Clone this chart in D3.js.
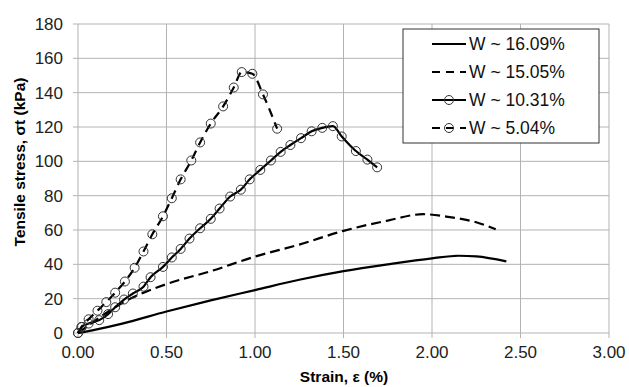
<!DOCTYPE html>
<html>
<head>
<meta charset="utf-8">
<script src="https://cdn.jsdelivr.net/npm/d3@7"></script>
<style>
  body { margin: 0; background: #fff; }
  svg { font-family: "Liberation Sans", Arial, sans-serif; }
</style>
</head>
<body>
<svg width="629" height="387"></svg>
<script>
// strain (%) , stress (kPa)
const w1609 = [[0,0],[0.1,2],[0.25,5.5],[0.5,12.5],[0.75,19],[1.0,25],[1.25,31],[1.5,36],
  [1.75,40],[2.0,43.5],[2.15,45],[2.25,44.6],[2.42,41.7]];
const w1505 = [[0,0],[0.1,7.5],[0.25,17.5],[0.5,28.5],[0.75,36],[1.0,44.5],[1.25,51.5],[1.5,59.5],
  [1.75,65.5],[1.95,69.2],[2.1,67.5],[2.25,64.5],[2.36,60.4]];
const w1031 = [[0,0],[0.02,3.5],[0.06,5.5],[0.12,7.5],[0.17,11],[0.21,15],[0.26,19.5],[0.31,23],
  [0.37,27],[0.41,32.5],[0.48,38.5],[0.53,44],[0.58,49],[0.63,55],[0.69,61],[0.75,66.5],
  [0.80,72.5],[0.86,79.5],[0.92,83.5],[0.97,89.5],[1.03,95],[1.09,100.5],[1.145,105.5],
  [1.20,109.5],[1.26,113.5],[1.32,117.5],[1.38,119.5],[1.44,120.5],[1.49,114.5],[1.57,106],
  [1.635,101],[1.69,96.5]];
const w504 = [[0,0],[0.02,3.5],[0.06,8],[0.11,13],[0.16,18],[0.21,23.5],[0.265,30],[0.32,38],
  [0.37,47.5],[0.42,57.5],[0.48,68],[0.53,78.5],[0.58,89.5],[0.64,100.5],[0.69,111],[0.75,122],
  [0.82,132],[0.88,143],[0.925,152],[0.985,151],[1.045,139],[1.125,119]];

const xTicks = [0, 0.5, 1, 1.5, 2, 2.5, 3];
const yTicks = [0, 20, 40, 60, 80, 100, 120, 140, 160, 180];

const series = [
  { label: "W ~  16.09%", data: w1609, dash: null, marker: false },
  { label: "W ~  15.05%", data: w1505, dash: "10,5", marker: false },
  { label: "W ~  10.31%", data: w1031, dash: null, marker: true },
  { label: "W ~  5.04%", data: w504, dash: "9,6", marker: true }
];

const svg = d3.select("svg");
const x = d3.scaleLinear().domain([0, 3]).range([78, 609]);
const y = d3.scaleLinear().domain([0, 180]).range([333, 24]);

// grid
svg.append("g").selectAll("line").data(xTicks).join("line")
  .attr("x1", d => x(d)).attr("x2", d => x(d))
  .attr("y1", y(180)).attr("y2", y(0) + 5)
  .attr("stroke", "#b3b3b3").attr("stroke-width", 1);
svg.append("g").selectAll("line").data(yTicks).join("line")
  .attr("x1", x(0) - 5).attr("x2", x(3))
  .attr("y1", d => y(d)).attr("y2", d => y(d))
  .attr("stroke", "#b3b3b3").attr("stroke-width", 1);

// tick labels
svg.append("g").selectAll("text").data(xTicks).join("text")
  .attr("x", d => x(d)).attr("y", 358)
  .attr("text-anchor", "middle").attr("font-size", 17).attr("fill", "#222")
  .text(d => d.toFixed(2));
svg.append("g").selectAll("text").data(yTicks).join("text")
  .attr("x", 63).attr("y", d => y(d) + 6)
  .attr("text-anchor", "end").attr("font-size", 17).attr("fill", "#222")
  .text(d => d);

// titles
svg.append("text").attr("x", 344).attr("y", 382)
  .attr("text-anchor", "middle").attr("font-size", 15.5).attr("font-weight", "bold")
  .text("Strain, ε  (%)");
svg.append("text").attr("transform", "translate(25,162) rotate(-90)")
  .attr("text-anchor", "middle").attr("font-size", 15.5).attr("font-weight", "bold")
  .text("Tensile stress, σt (kPa)");

const line = d3.line().x(d => x(d[0])).y(d => y(d[1])).curve(d3.curveMonotoneX);

series.forEach(s => {
  svg.append("path").datum(s.data)
    .attr("d", line)
    .attr("fill", "none").attr("stroke", "#000").attr("stroke-width", 2.2)
    .attr("stroke-dasharray", s.dash);
  if (s.marker) {
    svg.append("g").selectAll("circle").data(s.data).join("circle")
      .attr("cx", d => x(d[0])).attr("cy", d => y(d[1])).attr("r", 4.5)
      .attr("fill", "none").attr("stroke", "#333").attr("stroke-width", 1);
  }
});

// legend
const lg = svg.append("g");
lg.append("rect").attr("x", 403).attr("y", 29).attr("width", 196).attr("height", 114)
  .attr("fill", "#fff").attr("stroke", "#333").attr("stroke-width", 1);
series.forEach((s, i) => {
  const ly = 44 + i * 28;
  lg.append("line").attr("x1", 432).attr("x2", 466).attr("y1", ly).attr("y2", ly)
    .attr("stroke", "#000").attr("stroke-width", 2.2)
    .attr("stroke-dasharray", s.dash ? "8,6" : null);
  if (s.marker) {
    lg.append("circle").attr("cx", 449).attr("cy", ly).attr("r", 4.5)
      .attr("fill", "none").attr("stroke", "#333");
  }
  lg.append("text").attr("x", 469).attr("y", ly + 6).attr("font-size", 17.5).attr("fill", "#111")
    .text(s.label);
});
</script>
</body>
</html>
